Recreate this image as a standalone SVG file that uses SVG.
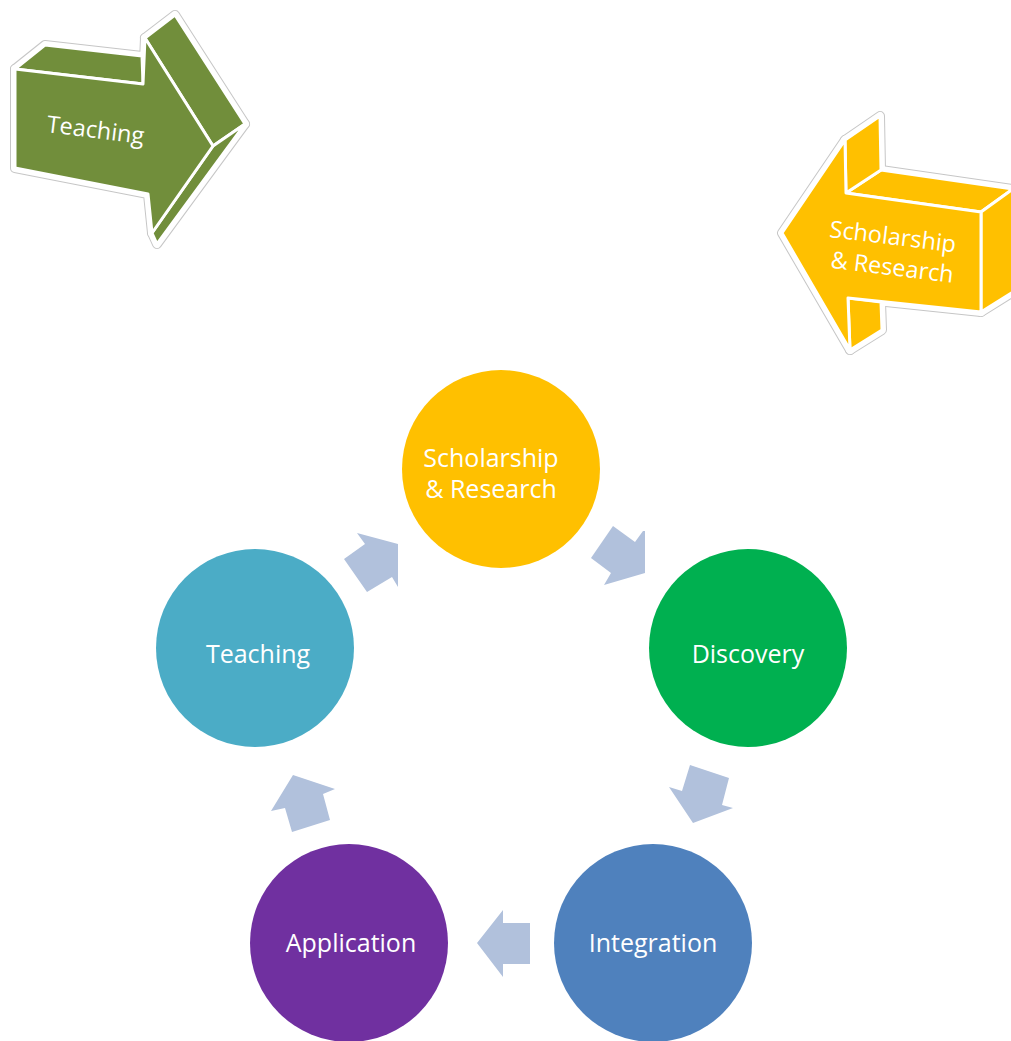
<svg xmlns="http://www.w3.org/2000/svg" xmlns:xlink="http://www.w3.org/1999/xlink" width="1011" height="1041" viewBox="0 0 1011 1041">
  <style>
    .halo { fill: #c6c6c6; stroke: #c6c6c6; stroke-width: 10; stroke-linejoin: round; }
    .rim { fill: #ffffff; stroke: #ffffff; stroke-width: 8; stroke-linejoin: round; }
    .green { fill: #718E3B; stroke: #ffffff; stroke-width: 3; stroke-linejoin: round; }
    .gold { fill: #FFC000; stroke: #ffffff; stroke-width: 3; stroke-linejoin: round; }
    .shape-label { font-family: "Open Sans", "Noto Sans", "Liberation Sans", sans-serif; fill: #ffffff; }
    .node-label { font-family: "Open Sans", "Noto Sans", "Liberation Sans", sans-serif; font-size: 25px; fill: #ffffff; text-anchor: middle; }
    .cyc { fill: #B1C1DC; }
  </style>
  <defs>
    <polygon id="t-front" points="15,69 143,84 145,38 213,146 152,233 148,194 15,168"/>
    <polygon id="t-top" points="15,69 45,45 142,56 143,84"/>
    <polygon id="t-head" points="145,38 175,15 245,124 213,146"/>
    <polygon id="t-low" points="213,146 245,124 157,244 152,233"/>
    <polygon id="s-front" points="782,233 845,140 846,193 981,212 981,312 848,298 850,350"/>
    <polygon id="s-top" points="846,193 881,170 1013,189 981,212"/>
    <polygon id="s-shoulder" points="845,140 880,116 881,170 846,193"/>
    <polygon id="s-end" points="981,212 1013,189 1013,292 981,312"/>
    <polygon id="s-lower" points="848,298 881,302 882,330 850,350"/>
  </defs>

  <g id="teaching-arrow">
    <use xlink:href="#t-front" class="halo"/>
    <use xlink:href="#t-top" class="halo"/>
    <use xlink:href="#t-head" class="halo"/>
    <use xlink:href="#t-low" class="halo"/>
    <use xlink:href="#t-front" class="rim"/>
    <use xlink:href="#t-top" class="rim"/>
    <use xlink:href="#t-head" class="rim"/>
    <use xlink:href="#t-low" class="rim"/>
    <use xlink:href="#t-top" class="green"/>
    <use xlink:href="#t-head" class="green"/>
    <use xlink:href="#t-low" class="green"/>
    <use xlink:href="#t-front" class="green"/>
    <text class="shape-label" font-size="23.5" transform="translate(46,132) rotate(7)">Teaching</text>
  </g>

  <g id="scholarship-arrow">
    <use xlink:href="#s-front" class="halo"/>
    <use xlink:href="#s-top" class="halo"/>
    <use xlink:href="#s-shoulder" class="halo"/>
    <use xlink:href="#s-end" class="halo"/>
    <use xlink:href="#s-lower" class="halo"/>
    <use xlink:href="#s-front" class="rim"/>
    <use xlink:href="#s-top" class="rim"/>
    <use xlink:href="#s-shoulder" class="rim"/>
    <use xlink:href="#s-end" class="rim"/>
    <use xlink:href="#s-lower" class="rim"/>
    <use xlink:href="#s-top" class="gold"/>
    <use xlink:href="#s-shoulder" class="gold"/>
    <use xlink:href="#s-end" class="gold"/>
    <use xlink:href="#s-lower" class="gold"/>
    <use xlink:href="#s-front" class="gold"/>
    <text class="shape-label" font-size="23.5" text-anchor="middle" transform="translate(895,245) rotate(7)">
      <tspan x="0" y="0">Scholarship</tspan>
      <tspan x="0" y="30.5">&amp; Research</tspan>
    </text>
  </g>

  <g id="connectors">
    <polygon class="cyc" points="613,526 635,542 643,531 645,531 645,573 604,585 611,573 591,558"/>
    <polygon class="cyc" points="690,765 729,778 722,805 733,808 693,823 669,787 682,791"/>
    <polygon class="cyc" points="477,943 503,910 503,923 530,923 530,964 503,964 503,977"/>
    <polygon class="cyc" points="293,775 335,789 323,794 330,820 292,832 285,808 271,811"/>
    <polygon class="cyc" points="357,533 398,544 398,587 392,577 367,592 344,559 365,544"/>
  </g>

  <g id="node-scholarship">
    <circle cx="501" cy="469" r="99" fill="#FFC000"/>
    <text class="node-label" x="491" y="467">Scholarship</text>
    <text class="node-label" x="491" y="498">&amp; Research</text>
  </g>
  <g id="node-discovery">
    <circle cx="748" cy="648" r="99" fill="#00B050"/>
    <text class="node-label" x="748" y="663">Discovery</text>
  </g>
  <g id="node-integration">
    <circle cx="653" cy="943" r="99" fill="#4F81BD"/>
    <text class="node-label" x="653" y="952">Integration</text>
  </g>
  <g id="node-application">
    <circle cx="349" cy="943" r="99" fill="#7030A0"/>
    <text class="node-label" x="351" y="952">Application</text>
  </g>
  <g id="node-teaching">
    <circle cx="255" cy="648" r="99" fill="#4BACC6"/>
    <text class="node-label" x="258" y="663">Teaching</text>
  </g>
</svg>
